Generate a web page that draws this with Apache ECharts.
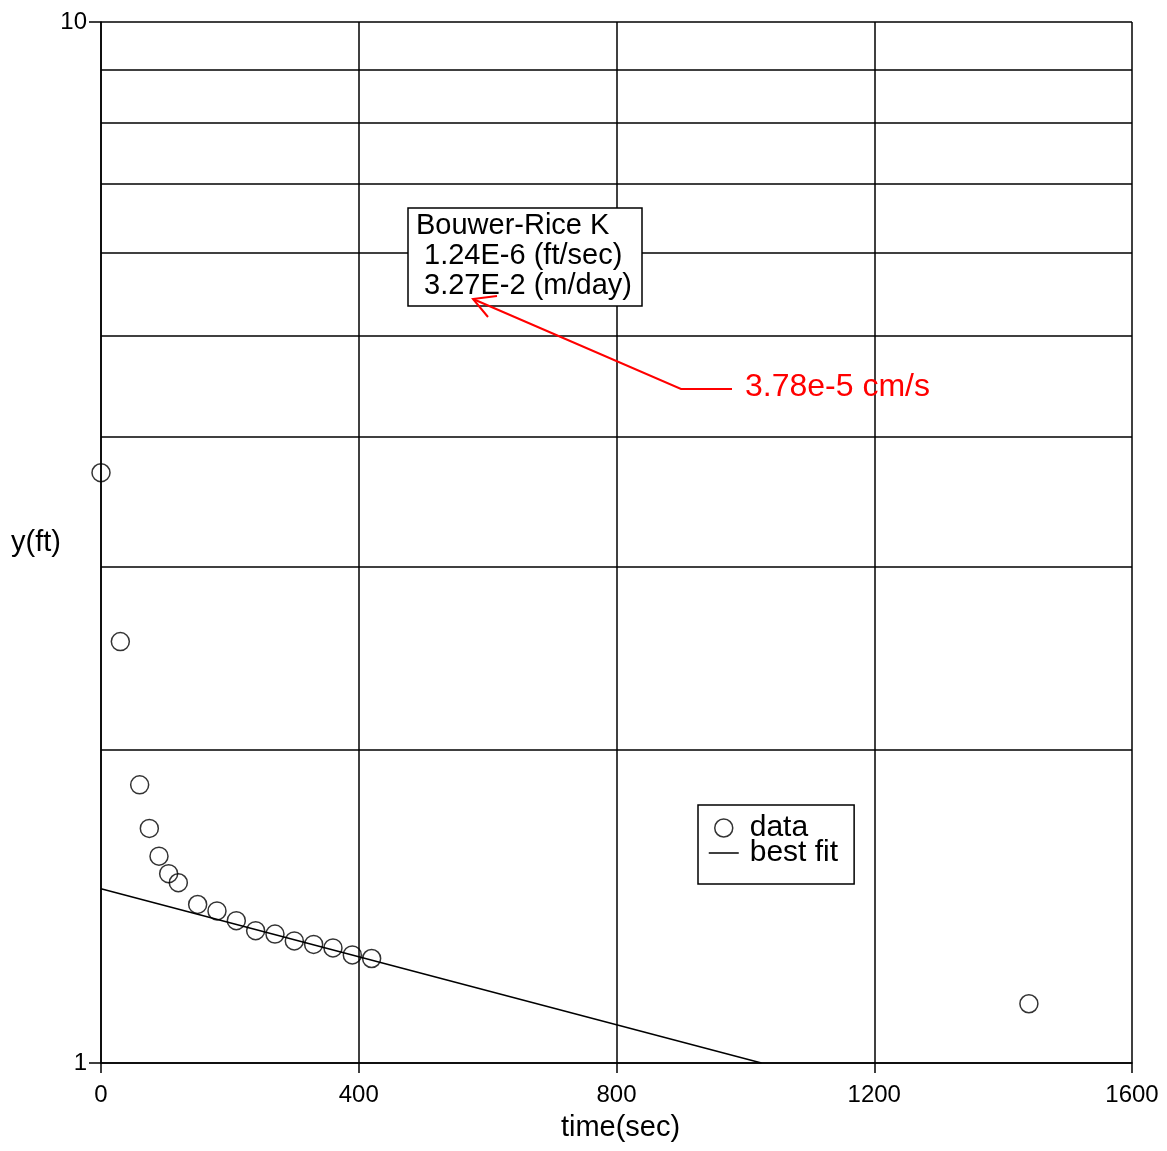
<!DOCTYPE html>
<html>
<head>
<meta charset="utf-8">
<script src="https://cdn.jsdelivr.net/npm/echarts@6/dist/echarts.min.js"></script>
<style>
  html, body { margin: 0; padding: 0; background: #fff; }
  #chart { width: 1167px; height: 1151px; }
</style>
</head>
<body>
<div id="chart"></div>
<script>
// slug test readings, time (sec) and head y (ft)
var times = [0, 30, 60, 75, 90, 105, 120, 150, 180, 210, 240, 270, 300, 330, 360, 390, 420, 1440];
var heads = [3.69, 2.54, 1.85, 1.68, 1.58, 1.52, 1.49, 1.42, 1.40, 1.37, 1.34, 1.33, 1.31, 1.30, 1.29, 1.27, 1.26, 1.14];
// best fit straight line on the semi-log plot
var fitTimes = [0, 1025];
var fitHeads = [1.47, 1.0];
// minor horizontal grid lines
var minorGrid = [2, 3, 4, 5, 6, 7, 8, 9];

var font = "'Liberation Sans', Arial, sans-serif";

var dataPts = times.map(function (t, i) { return [t, heads[i]]; });
var fitPts = fitTimes.map(function (t, i) { return [t, fitHeads[i]]; });

var myChart = echarts.init(document.getElementById('chart'));

var option = {
  backgroundColor: '#fff',
  animation: false,
  textStyle: { fontFamily: font, color: '#000' },
  grid: { left: 101, right: 35, top: 22, bottom: 88 },
  title: {
    text: 'Bouwer-Rice K\n 1.24E-6 (ft/sec)\n 3.27E-2 (m/day)',
    left: 408,
    top: 208,
    padding: [3, 10, 5, 8],
    borderColor: '#000',
    borderWidth: 1.5,
    backgroundColor: '#fff',
    textStyle: { fontFamily: font, fontSize: 29, fontWeight: 'normal', color: '#000', lineHeight: 30 }
  },
  legend: {
    orient: 'vertical',
    left: 698,
    top: 805,
    padding: [8, 16, 16, 10],
    itemGap: -5,
    itemWidth: 30,
    itemHeight: 18,
    borderColor: '#000',
    borderWidth: 1.5,
    backgroundColor: '#fff',
    textStyle: { fontFamily: font, fontSize: 30, color: '#000', lineHeight: 25, padding: [0, 0, 0, 6] },
    data: [
      { name: 'data', icon: 'circle', itemStyle: { color: '#fff', borderColor: '#000', borderWidth: 1.5 } },
      { name: 'best fit', itemStyle: { color: 'rgba(0,0,0,0)', borderColor: 'rgba(0,0,0,0)', borderWidth: 0 },
        lineStyle: { color: '#000', width: 1.5 } }
    ]
  },
  xAxis: {
    type: 'value',
    min: 0,
    max: 1600,
    interval: 400,
    name: 'time(sec)',
    nameLocation: 'middle',
    nameGap: 50,
    nameMoveOverlap: false,
    nameTextStyle: { fontFamily: font, fontSize: 29, color: '#000', padding: [0, 0, 0, 8] },
    axisLine: { lineStyle: { color: '#000', width: 1.5 } },
    axisTick: { show: true, length: 10, lineStyle: { color: '#000', width: 1.5 } },
    axisLabel: { fontFamily: font, fontSize: 24, color: '#000', margin: 20,
      formatter: function (v) { return String(v); } },
    splitLine: { show: true, lineStyle: { color: '#000', width: 1.5 } }
  },
  yAxis: {
    type: 'log',
    logBase: 10,
    min: 1,
    max: 10,
    interval: 1,
    name: 'y(ft)',
    nameLocation: 'middle',
    nameRotate: 0,
    nameGap: 40,
    nameMoveOverlap: false,
    nameTextStyle: { fontFamily: font, fontSize: 29, color: '#000', align: 'right' },
    axisLine: { lineStyle: { color: '#000', width: 1.5 } },
    axisTick: { show: true, length: 12, lineStyle: { color: '#000', width: 1.5 } },
    axisLabel: { fontFamily: font, fontSize: 24, color: '#000', margin: 14 },
    splitLine: { show: true, lineStyle: { color: '#000', width: 1.5 } }
  },
  graphic: [
    {
      type: 'polyline',
      z: 100,
      shape: { points: [[732, 389], [681, 389], [473, 299]] },
      style: { stroke: '#ff0000', lineWidth: 2, fill: null }
    },
    {
      type: 'polyline',
      z: 100,
      shape: { points: [[497, 296], [473, 299], [488, 317]] },
      style: { stroke: '#ff0000', lineWidth: 2, fill: null }
    },
    {
      type: 'text',
      z: 100,
      left: 745,
      top: 371,
      style: { text: '3.78e-5 cm/s', font: '32px ' + font, fill: '#ff0000' }
    }
  ],
  series: [
    {
      name: 'best fit',
      type: 'line',
      data: fitPts,
      symbol: 'none',
      lineStyle: { color: '#000', width: 1.5 },
      itemStyle: { color: '#000' },
      z: 3,
      markLine: {
        silent: true,
        symbol: ['none', 'none'],
        label: { show: false },
        lineStyle: { color: '#000', width: 1.5, type: 'solid' },
        data: minorGrid.map(function (v) { return { yAxis: v }; })
      }
    },
    {
      name: 'data',
      type: 'scatter',
      data: dataPts,
      symbol: 'circle',
      symbolSize: 18,
      itemStyle: { color: 'rgba(0,0,0,0)', borderColor: '#000', borderWidth: 1.5 },
      z: 4
    }
  ]
};

myChart.setOption(option);
</script>
</body>
</html>
